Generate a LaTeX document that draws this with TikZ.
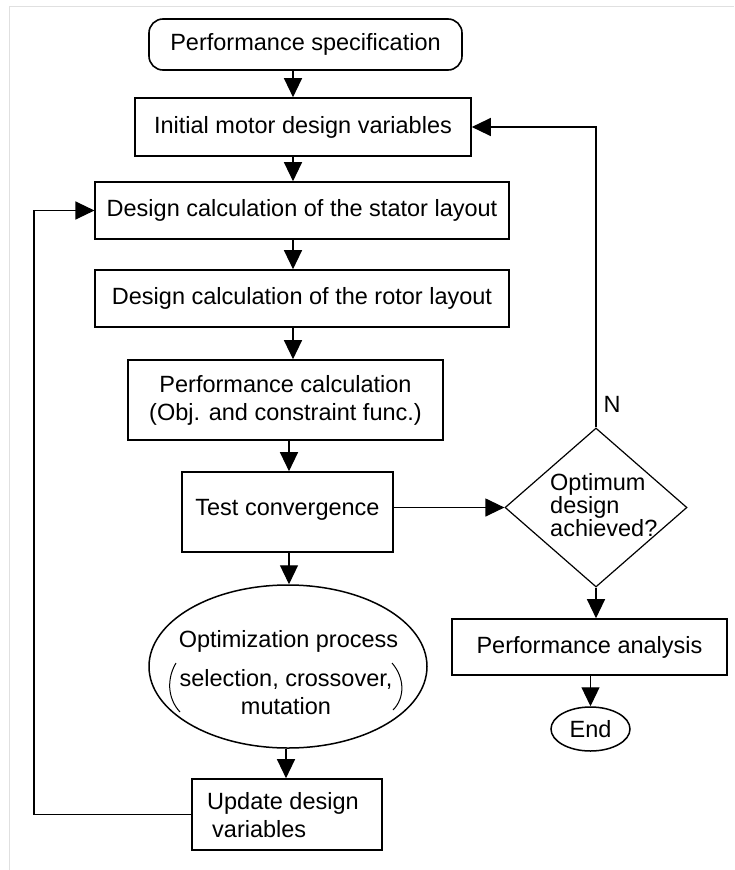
\documentclass[tikz,border=0pt]{standalone}
\usepackage{fontspec}
\setmainfont{Liberation Sans}
\usetikzlibrary{arrows.meta,shapes.geometric}
\begin{document}
\begin{tikzpicture}[x=1pt,y=-1pt,
  every node/.style={font=\fontsize{23.5}{28}\selectfont, inner sep=0pt},
  box/.style={draw, line width=1.6pt, rectangle},
  oval/.style={draw, line width=1.5pt, ellipse},
  arr/.style={line width=1.2pt, -{Triangle[length=19pt,width=18pt]}},
  paren/.style={line width=1pt}]
\useasboundingbox (0,0) rectangle (734,870);
\draw[black!12, line width=1pt] (9,870) -- (9,6) -- (734,6);

% column coordinates for the main arrows
\coordinate (ca) at (293,0);
\coordinate (cb) at (289,0);
\coordinate (cc) at (286,0);
\coordinate (lx) at (34,0);

\node[box, rounded corners=14pt, minimum width=313pt, minimum height=51pt] (spec) at (305.5,44.5) {Performance specification};
\node[box, minimum width=336pt, minimum height=58pt] (init) at (303,127) {Initial motor design variables};
\node[box, minimum width=413.5pt, minimum height=57pt] (stator) at (302,210.5) {Design calculation of the stator layout};
\node[box, minimum width=413.5pt, minimum height=57pt] (rotor) at (302,298.5) {Design calculation of the rotor layout};
\node[box, minimum width=315pt, minimum height=80pt, align=center] (perf) at (285.5,400) {Performance calculation\\(Obj. and constraint func.)};
\node[box, minimum width=211pt, minimum height=80pt] (test) at (287.5,512) {\raisebox{10pt}{Test convergence}};
\node[oval, minimum width=278pt, minimum height=163pt] (opt) at (288,666.5) {};
\node (optA) at (288.5,641) {Optimization process};
\node[align=center] (optB) at (286,692) {selection, crossover,\\mutation};
\draw[paren] (176,663) .. controls (167,678) and (167,698) .. (180,712);
\draw[paren] (392,663) .. controls (405,678) and (405,698) .. (393,710);
\node[box, minimum width=190pt, minimum height=71pt] (upd) at (287,814.5) {};
\node[align=left, anchor=west] (updt) at (207,815.5) {Update design\\\hspace*{5pt}variables};

\node[diamond, draw, line width=1.2pt, minimum width=182pt, minimum height=159pt] (dec) at (596,507.5) {};
\node[align=left, anchor=west, font=\fontsize{23.5}{23}\selectfont] (dect) at (550,505) {Optimum\\design\\achieved?};
\node (n) at (612,404) {N};
\node[box, minimum width=275pt, minimum height=56pt] (pa) at (589.5,647) {Performance analysis};
\node[oval, minimum width=79pt, minimum height=44pt] (end) at (590.5,729) {End};

% connectors
\draw[arr] (spec.south -| ca) -- (init.north -| ca);
\draw[arr] (init.south -| ca) -- (stator.north -| ca);
\draw[arr] (stator.south -| ca) -- (rotor.north -| ca);
\draw[arr] (rotor.south -| ca) -- (perf.north -| ca);
\draw[arr] (perf.south -| cb) -- (test.north -| cb);
\draw[arr] (test.south -| cb) -- (opt.north -| cb);
\draw[arr] (opt.south -| cc) -- (upd.north -| cc);
\draw[arr] (upd.west) -- (upd.west -| lx) |- (stator.west);
\draw[arr] (test.east |- dec.west) -- (dec.west);
\draw[arr] (dec.north) |- (init.east);
\draw[arr] (dec.south) -- (pa.north -| dec.south);
\draw[arr] (pa.south -| end.north) -- (end.north);
\end{tikzpicture}
\end{document}
